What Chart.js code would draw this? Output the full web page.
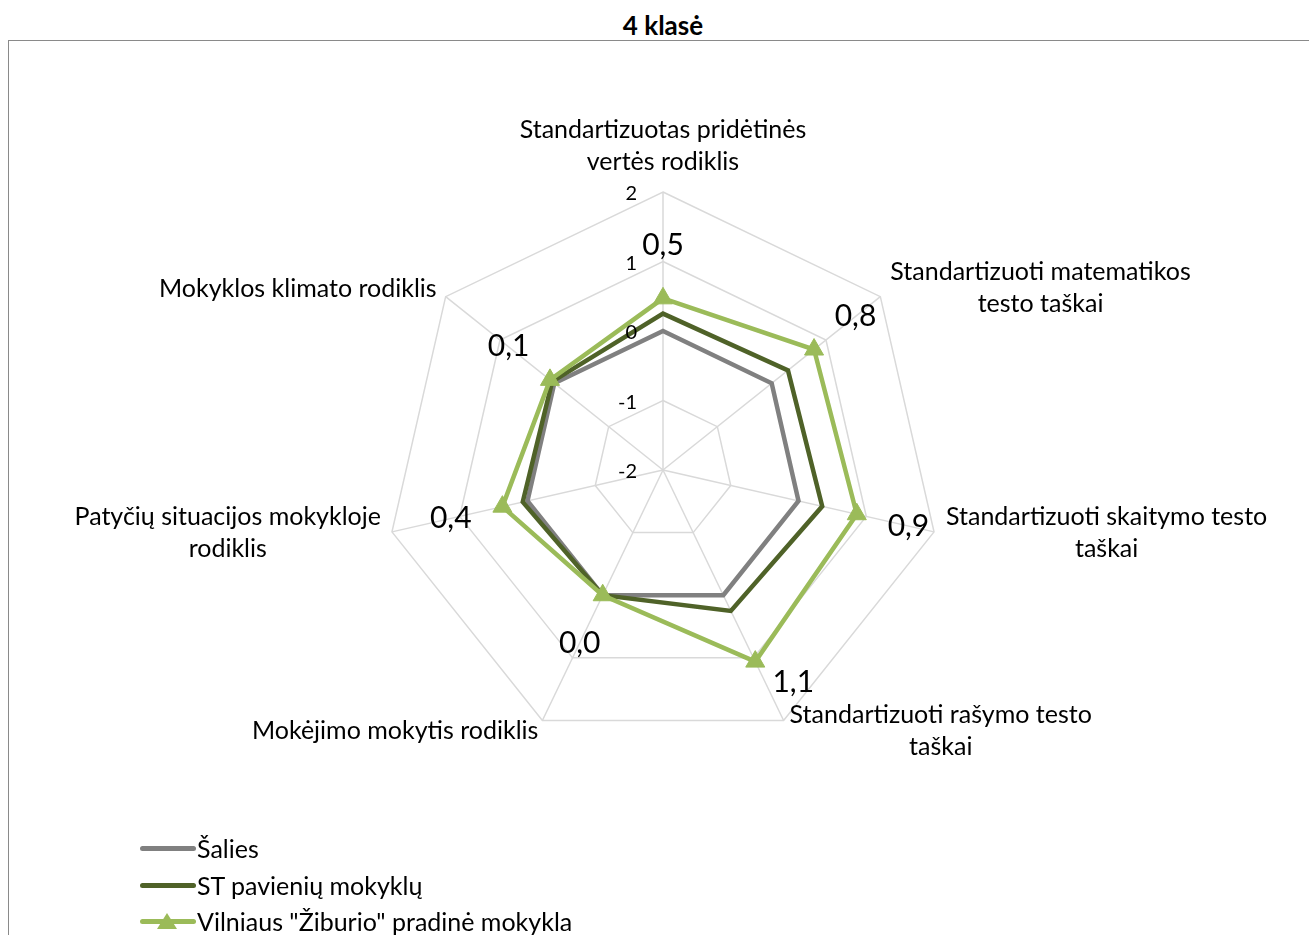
<!DOCTYPE html>
<html><head><meta charset="utf-8">
<script src="https://cdn.jsdelivr.net/npm/chart.js@4.4.1/dist/chart.umd.min.js"></script>
<style>
html,body{margin:0;padding:0;background:#fff;width:1309px;height:935px;overflow:hidden;font-family:Lato,'Open Sans',sans-serif;color:#000;}
#frame{position:absolute;left:8px;top:40px;width:1400px;height:1000px;border:1.5px solid #8a8a8a;box-sizing:border-box;}
#title{position:absolute;left:0;width:1326px;top:9px;line-height:32px;text-align:center;font-weight:bold;font-size:26px;}
#chart{position:absolute;left:0;top:0;}
#legend{position:absolute;left:140px;top:833px;}
.row{position:relative;height:36.5px;line-height:30px;font-size:25px;white-space:nowrap;}
.sw{position:absolute;left:0;top:13px;width:56px;height:5px;border-radius:3px;}
.tri{position:absolute;left:17px;top:7px;width:0;height:0;border-left:10px solid transparent;border-right:10px solid transparent;border-bottom:16px solid #9BBB59;}
.txt{position:absolute;left:57px;top:0;}
</style></head>
<body>
<div id="frame"></div>
<div id="title">4 klasė</div>
<canvas id="chart" width="1309" height="935"></canvas>
<div id="legend"></div>
<script>
const categories = [
  ["Standartizuotas pridėtinės","vertės rodiklis"],
  ["Standartizuoti matematikos","testo taškai"],
  ["Standartizuoti skaitymo testo","taškai"],
  ["Standartizuoti rašymo testo","taškai"],
  "Mokėjimo mokytis rodiklis",
  ["Patyčių situacijos mokykloje","rodiklis"],
  "Mokyklos klimato rodiklis"
];
const seriesNames = ["Šalies", "ST pavienių mokyklų", "Vilniaus \"Žiburio\" pradinė mokykla"];
const salies = [0, 0, 0, 0, 0, 0, 0];
const stPavieniu = [0.25, 0.3, 0.35, 0.25, 0, 0.07, 0.04];
const vilnius = [0.47, 0.78, 0.86, 1.06, 0, 0.37, 0.08];
const seriesColors = ["#808080", "#4F6228", "#9BBB59"];
const scaleMin = -2, scaleMax = 2, scaleStep = 1;

const labelPlugin = {
  id: 'customLabels',
  afterDatasetsDraw(chart) {
    const s = chart.scales.r, ctx = chart.ctx;
    ctx.save();
    ctx.fillStyle = '#000';
    // tick labels
    ctx.font = '20px Lato';
    ctx.textAlign = 'right'; ctx.textBaseline = 'middle';
    s.ticks.forEach(t => {
      const d = s.getDistanceFromCenterForValue(t.value);
      ctx.fillText(String(t.value), s.xCenter - 26, s.yCenter - d + 2);
    });
    // category labels
    const place = [
      {a:'center', g:0, dy:-46}, {a:'left', g:10, dy:-9}, {a:'left', g:12, dy:1},
      {a:'left', g:6, dy:10}, {a:'right', g:4, dy:10}, {a:'right', g:11, dy:1}, {a:'right', g:9, dy:-8}
    ];
    ctx.font = '25px Lato'; ctx.textAlign = 'center';
    const R = s.drawingArea, lineH = 32;
    chart.data.labels.forEach((lab, i) => {
      const lines = Array.isArray(lab) ? lab : [lab];
      const p = s.getPointPosition(i, R);
      const w = Math.max(...lines.map(l => ctx.measureText(l).width));
      const pl = place[i];
      const cx = pl.a === 'center' ? p.x : pl.a === 'left' ? p.x + pl.g + w / 2 : p.x - pl.g - w / 2;
      const cy = p.y + pl.dy;
      const y0 = cy - (lines.length - 1) * lineH / 2;
      lines.forEach((l, k) => ctx.fillText(l, cx, y0 + k * lineH));
    });
    // data labels for last series
    ctx.font = '30px Lato';
    const ds = chart.data.datasets[2];
    ds.data.forEach((v, i) => {
      const d = s.getDistanceFromCenterForValue(v);
      let p;
      if (i === 3) {
        const q = s.getPointPosition(i, d);
        p = {x: q.x + 38, y: q.y + 21};
      } else {
        p = s.getPointPosition(i, d + 53);
      }
      ctx.fillText(v.toFixed(1).replace('.', ','), p.x, p.y);
    });
    ctx.restore();
  }
};

new Chart(document.getElementById('chart'), {
  type: 'radar',
  data: {
    labels: categories,
    datasets: [
      {label: seriesNames[0], data: salies, borderColor: seriesColors[0], backgroundColor: seriesColors[0], borderWidth: 4.5, pointRadius: 0, fill: false, order: 3},
      {label: seriesNames[1], data: stPavieniu, borderColor: seriesColors[1], backgroundColor: seriesColors[1], borderWidth: 4.5, pointRadius: 0, fill: false, order: 2},
      {label: seriesNames[2], data: vilnius, borderColor: seriesColors[2], backgroundColor: seriesColors[2], borderWidth: 4.5, pointRadius: 11, pointStyle: 'triangle', pointBorderWidth: 1, fill: false, order: 1}
    ]
  },
  options: {
    responsive: false, animation: false,
    plugins: {legend: {display: false}, title: {display: false}, tooltip: {enabled: false}},
    elements: {line: {tension: 0}},
    scales: {
      r: {
        min: scaleMin, max: scaleMax,
        ticks: {stepSize: scaleStep, display: false},
        grid: {color: '#D9D9D9', lineWidth: 1.5},
        angleLines: {color: '#D9D9D9', lineWidth: 1.5},
        pointLabels: {display: false},
        afterFit(scale) { scale.xCenter = 663; scale.yCenter = 470; scale.drawingArea = 278; }
      }
    }
  },
  plugins: [labelPlugin]
});

// legend
const lg = document.getElementById('legend');
seriesNames.forEach((n, i) => {
  const r = document.createElement('div'); r.className = 'row';
  const sw = document.createElement('div'); sw.className = 'sw'; sw.style.background = seriesColors[i]; r.appendChild(sw);
  if (i === 2) { const t = document.createElement('div'); t.className = 'tri'; r.appendChild(t); }
  const tx = document.createElement('div'); tx.className = 'txt'; tx.textContent = n; r.appendChild(tx);
  lg.appendChild(r);
});
</script>
</body></html>
